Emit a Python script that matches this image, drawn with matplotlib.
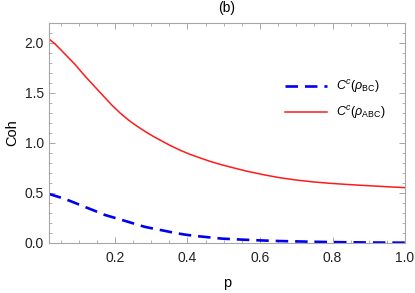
import matplotlib
matplotlib.use("Agg")
import matplotlib.pyplot as plt
import numpy as np

plt.rcParams['font.family'] = ['Liberation Sans', 'DejaVu Sans']
plt.rcParams['mathtext.fontset'] = 'custom'
plt.rcParams['mathtext.rm'] = 'Liberation Sans'
plt.rcParams['mathtext.it'] = 'Liberation Sans:italic'
plt.rcParams['lines.scale_dashes'] = False

# Data
p_abc = [0.018, 0.035, 0.062, 0.09, 0.117, 0.145, 0.168, 0.191, 0.214, 0.237, 0.26, 0.283, 0.306,
         0.329, 0.352, 0.38, 0.407, 0.435, 0.462, 0.49, 0.517, 0.563, 0.61, 0.655, 0.70, 0.747,
         0.79, 0.839, 0.885, 0.931, 0.965, 1.0]
coh_abc = [2.04, 1.99, 1.89, 1.785, 1.67, 1.56, 1.47, 1.38, 1.30, 1.23, 1.17, 1.115, 1.065,
           1.02, 0.975, 0.927, 0.886, 0.85, 0.816, 0.786, 0.76, 0.718, 0.682, 0.652, 0.629, 0.61,
           0.597, 0.585, 0.575, 0.566, 0.559, 0.553]

p_bc = [0.018, 0.062, 0.09, 0.117, 0.145, 0.172, 0.2, 0.228, 0.255, 0.283, 0.31, 0.338, 0.365,
        0.393, 0.42, 0.448, 0.494, 0.55, 0.6, 0.65, 0.7, 0.75, 0.8, 0.85, 0.9, 0.95, 1.0]
coh_bc = [0.49, 0.44, 0.40, 0.36, 0.32, 0.28, 0.25, 0.22, 0.19, 0.16, 0.14, 0.12, 0.10,
          0.083, 0.07, 0.06, 0.043, 0.033, 0.025, 0.019, 0.015, 0.011, 0.008, 0.006, 0.004, 0.003, 0.002]

xticks = [0.2, 0.4, 0.6, 0.8, 1.0]
yticks = [0.0, 0.5, 1.0, 1.5, 2.0]

fig = plt.figure(figsize=(4.15, 2.93), dpi=100)
ax = fig.add_axes([0.118, 0.171, 0.858, 0.7505])

ax.plot(p_bc, coh_bc, color='#0000ee', lw=1.9, dashes=(9, 5), label=r'$C^c(\rho_{\mathrm{BC}})$')
ax.plot(p_abc, coh_abc, color='#ff1a1a', lw=1.1, label=r'$C^c(\rho_{\mathrm{ABC}})$')

ax.set_xlim(0.018, 1.0)
ax.set_ylim(0, 2.2)
ax.set_xticks(xticks)
ax.set_xticklabels([f'{v:.1f}' for v in xticks])
ax.set_yticks(yticks)
ax.set_yticklabels([f'{v:.1f}' for v in yticks])
ax.set_xticks(np.arange(0.05, 1.0001, 0.05), minor=True)
ax.set_yticks(np.arange(0.0, 2.2001, 0.1), minor=True)

for s in ax.spines.values():
    s.set_color('#a6a6a6')
    s.set_linewidth(0.8)
ax.tick_params(which='both', direction='in', top=True, right=True, color='#a6a6a6', labelsize=10, labelcolor='#222222')
ax.tick_params(which='major', length=4.5, width=0.7)
ax.tick_params(which='minor', length=2.5, width=0.6)
ax.tick_params(axis='x', pad=6)

ax.set_xlabel('p', fontsize=10.5, labelpad=8)
ax.set_ylabel('Coh', fontsize=10.5, labelpad=4)
ax.set_title('(b)', fontsize=10, pad=8)

leg = ax.legend(loc='upper left', bbox_to_anchor=(0.63, 0.80), frameon=False, fontsize=9,
                handlelength=3.4, handletextpad=0.7, labelspacing=0.7)

fig.savefig('out.png', dpi=100)
